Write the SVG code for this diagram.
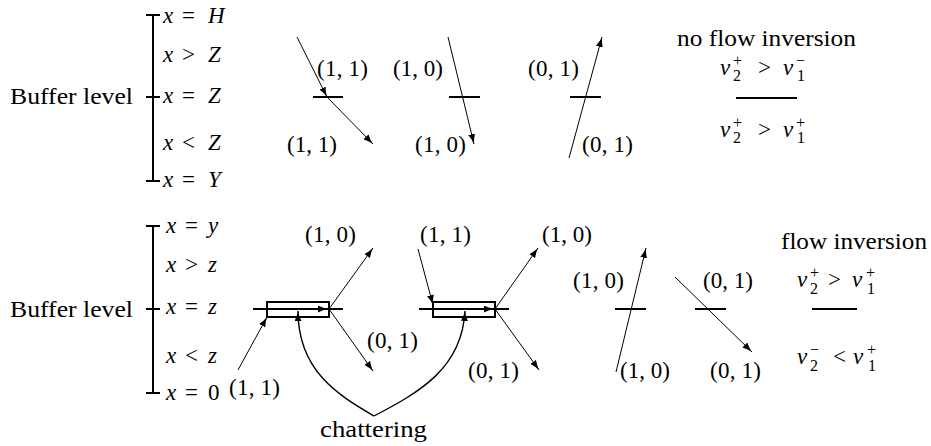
<svg xmlns="http://www.w3.org/2000/svg" width="931" height="446" viewBox="0 0 931 446" font-family="'Liberation Serif', 'DejaVu Serif', serif">
  <style>
    text { font-family: "Liberation Serif", "DejaVu Serif", serif; font-size: 23px; fill: #000; }
    .i { font-style: italic; }
    .s { font-size: 16px; font-style: normal; }
    .thick { stroke: #000; stroke-width: 2; fill: none; }
    .arr { stroke: #000; stroke-width: 1; fill: none; marker-end: url(#ah); }
    .curve { stroke: #000; stroke-width: 1.4; fill: none; marker-end: url(#ah); }
  </style>
  <defs>
    <marker id="ah" viewBox="0 0 10 7" refX="10" refY="3.5" markerWidth="10" markerHeight="7" markerUnits="userSpaceOnUse" orient="auto">
      <path d="M0,0 Q5,2.6 10,3.5 Q5,4.4 0,7 z" fill="#000"/>
    </marker>
  </defs>
  <rect width="931" height="446" fill="#fff"/>

  <!-- upper scale: no flow inversion -->
  <g id="scale-top">
    <path class="thick" d="M153,15 V181 M146,15 H160 M146,97 H160 M146,181 H160"/>
    <text x="10" y="104" textLength="123" lengthAdjust="spacingAndGlyphs">Buffer level</text>
    <text y="23"><tspan x="163" class="i">x</tspan><tspan x="182">=</tspan><tspan x="208" class="i">H</tspan></text>
    <text y="62"><tspan x="163" class="i">x</tspan><tspan x="182">&gt;</tspan><tspan x="208" class="i">Z</tspan></text>
    <text y="103"><tspan x="163" class="i">x</tspan><tspan x="182">=</tspan><tspan x="208" class="i">Z</tspan></text>
    <text y="150"><tspan x="163" class="i">x</tspan><tspan x="182">&lt;</tspan><tspan x="208" class="i">Z</tspan></text>
    <text y="187"><tspan x="163" class="i">x</tspan><tspan x="182">=</tspan><tspan x="208" class="i">Y</tspan></text>
  </g>

  <!-- lower scale: flow inversion -->
  <g id="scale-bottom">
    <path class="thick" d="M153,226 V393 M146,226 H160 M146,309 H160 M146,393 H160"/>
    <text x="10" y="317" textLength="123" lengthAdjust="spacingAndGlyphs">Buffer level</text>
    <text y="233"><tspan x="166" class="i">x</tspan><tspan x="185">=</tspan><tspan x="208" class="i">y</tspan></text>
    <text y="272"><tspan x="166" class="i">x</tspan><tspan x="185">&gt;</tspan><tspan x="208" class="i">z</tspan></text>
    <text y="314"><tspan x="166" class="i">x</tspan><tspan x="185">=</tspan><tspan x="208" class="i">z</tspan></text>
    <text y="363"><tspan x="166" class="i">x</tspan><tspan x="185">&lt;</tspan><tspan x="208" class="i">z</tspan></text>
    <text y="400"><tspan x="166" class="i">x</tspan><tspan x="185">=</tspan><tspan x="208">0</tspan></text>
  </g>

  <!-- switching surfaces and sliding boxes -->
  <g id="surfaces">
    <path class="thick" d="M313,97 H343 M449,97 H480 M570,97 H601 M736,98 H797"/>
    <path class="thick" d="M615,309 H646 M695,309 H726 M812,309 H857"/>
    <g id="box-1">
      <rect class="thick" x="267" y="302" width="62" height="15"/>
      <path class="thick" d="M253,309 H343"/>
      <path class="arr" d="M300,309 H328"/>
    </g>
    <g id="box-2">
      <rect class="thick" x="433" y="302" width="62" height="15"/>
      <path class="thick" d="M419,309 H509"/>
      <path class="arr" d="M466,309 H494"/>
    </g>
  </g>

  <!-- trajectories -->
  <g id="connectors">
    <path class="arr" d="M297,37 L327,97"/>
    <path class="arr" d="M327,97 L373,144"/>
    <path class="arr" d="M448,37 L474,144"/>
    <path class="arr" d="M569,158 L602,37"/>

    <path class="arr" d="M238,370 L267,317"/>
    <path class="arr" d="M329,309 L373,248"/>
    <path class="arr" d="M329,309 L373,371"/>
    <path class="arr" d="M418,249 L433,305"/>
    <path class="arr" d="M495,309 L538,248"/>
    <path class="arr" d="M495,309 L539,370"/>
    <path class="arr" d="M616,372 L646,248"/>
    <path class="arr" d="M675,277 L752,352"/>

    <path class="curve" d="M374,416 C340,396 298,372 298,311"/>
    <path class="curve" d="M374,416 C420,392 462,368 465,311"/>
  </g>

  <!-- state labels -->
  <g id="labels">
    <text x="317" y="76" textLength="51">(1, 1)</text>
    <text x="287" y="152" textLength="50">(1, 1)</text>
    <text x="393" y="76" textLength="50">(1, 0)</text>
    <text x="415" y="152" textLength="51">(1, 0)</text>
    <text x="528" y="76" textLength="51">(0, 1)</text>
    <text x="582" y="152" textLength="51">(0, 1)</text>

    <text x="305" y="242" textLength="51">(1, 0)</text>
    <text x="420" y="242" textLength="51">(1, 1)</text>
    <text x="542" y="242" textLength="50">(1, 0)</text>
    <text x="367" y="348" textLength="51">(0, 1)</text>
    <text x="468" y="378" textLength="51">(0, 1)</text>
    <text x="229" y="395" textLength="51">(1, 1)</text>
    <text x="573" y="288" textLength="51">(1, 0)</text>
    <text x="703" y="288" textLength="50">(0, 1)</text>
    <text x="620" y="378" textLength="50">(1, 0)</text>
    <text x="710" y="378" textLength="51">(0, 1)</text>
    <text x="320" y="437" textLength="107" lengthAdjust="spacingAndGlyphs">chattering</text>
  </g>

  <!-- inversion conditions -->
  <g id="cond-top">
    <text x="677" y="46" textLength="179" lengthAdjust="spacingAndGlyphs">no flow inversion</text>
    <text y="75"><tspan x="720" class="i">v</tspan><tspan x="733" y="66" class="s">+</tspan><tspan x="733" y="81" class="s">2</tspan><tspan x="758" y="75">&gt;</tspan><tspan x="783" class="i">v</tspan><tspan x="796" y="66" class="s">−</tspan><tspan x="797" y="81" class="s">1</tspan></text>
    <text y="137"><tspan x="720" class="i">v</tspan><tspan x="733" y="128" class="s">+</tspan><tspan x="733" y="143" class="s">2</tspan><tspan x="758" y="137">&gt;</tspan><tspan x="783" class="i">v</tspan><tspan x="796" y="128" class="s">+</tspan><tspan x="797" y="143" class="s">1</tspan></text>
  </g>
  <g id="cond-bottom">
    <text x="781" y="249" textLength="146" lengthAdjust="spacingAndGlyphs">flow inversion</text>
    <text y="287"><tspan x="797" class="i">v</tspan><tspan x="810" y="278" class="s">+</tspan><tspan x="810" y="294" class="s">2</tspan><tspan x="828" y="287">&gt;</tspan><tspan x="852" class="i">v</tspan><tspan x="866" y="278" class="s">+</tspan><tspan x="867" y="294" class="s">1</tspan></text>
    <text y="364"><tspan x="797" class="i">v</tspan><tspan x="810" y="355" class="s">−</tspan><tspan x="810" y="371" class="s">2</tspan><tspan x="833" y="364">&lt;</tspan><tspan x="853" class="i">v</tspan><tspan x="867" y="355" class="s">+</tspan><tspan x="868" y="371" class="s">1</tspan></text>
  </g>
</svg>
